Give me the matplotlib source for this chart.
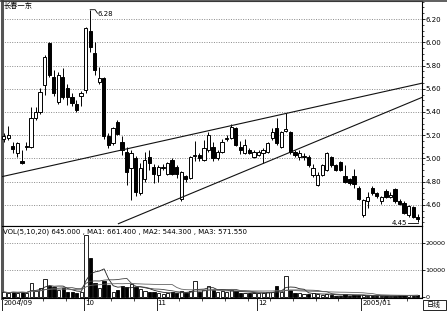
import matplotlib
matplotlib.use('Agg')
import matplotlib.pyplot as plt
from matplotlib.patches import Rectangle
from matplotlib.ticker import MultipleLocator, FixedLocator
import numpy as np
import pandas as pd

plt.rcParams['font.family'] = ['DejaVu Sans', 'Noto Sans CJK SC']

# ---- daily bars, 长春一东, 2004/09 - 2005/01 ----
title = '长春一东'
opens = [5.17, 5.18, 5.11, 5.05, 4.98, 5.10, 5.10, 5.35, 5.40, 5.63,
         5.99, 5.70, 5.49, 5.70, 5.61, 5.53, 5.47, 5.54, 5.59, 6.10,
         5.91, 5.66, 5.69, 5.19, 5.13, 5.31, 5.14, 5.06, 4.92, 5.00,
         4.70, 4.82, 5.01, 4.93, 4.86, 4.92, 4.87, 4.99, 4.93, 4.65,
         4.85, 4.83, 5.02, 5.03, 4.99, 5.07, 5.10, 5.00, 5.06, 5.17,
         5.18, 5.26, 5.10, 5.05, 5.07, 5.01, 5.03, 5.05, 5.06, 5.18,
         5.26, 5.10, 5.24, 5.23, 5.06, 5.01, 5.01, 5.01, 4.86, 4.77,
         4.86, 4.90, 5.01, 4.94, 4.97, 4.85, 4.82, 4.85, 4.75, 4.51,
         4.63, 4.75, 4.70, 4.63, 4.72, 4.67, 4.74, 4.63, 4.62, 4.51,
         4.58, 4.50]
highs = [5.22, 5.28, 5.14, 5.14, 5.07, 5.14, 5.44, 5.44, 5.61, 5.89,
         6.00, 5.76, 5.74, 5.78, 5.64, 5.56, 5.50, 5.58, 6.13, 6.28,
         6.00, 5.79, 5.70, 5.22, 5.27, 5.33, 5.19, 5.10, 5.07, 5.02,
         4.96, 5.06, 5.07, 4.95, 4.94, 4.95, 4.97, 5.00, 4.94, 4.89,
         4.86, 5.02, 5.15, 5.05, 5.16, 5.23, 5.14, 5.07, 5.17, 5.20,
         5.30, 5.27, 5.15, 5.17, 5.09, 5.07, 5.07, 5.09, 5.14, 5.26,
         5.35, 5.24, 5.39, 5.24, 5.07, 5.07, 5.05, 5.03, 4.95, 4.88,
         4.95, 5.06, 5.02, 4.95, 4.98, 4.94, 4.83, 4.91, 4.76, 4.65,
         4.71, 4.76, 4.71, 4.68, 4.74, 4.71, 4.75, 4.65, 4.63, 4.60,
         4.59, 4.52]
lows = [5.14, 5.16, 5.05, 5.01, 4.95, 5.07, 5.09, 5.33, 5.38, 5.55,
        5.70, 5.54, 5.47, 5.51, 5.46, 5.45, 5.40, 5.45, 5.56, 5.92,
        5.72, 5.64, 5.17, 5.09, 5.12, 5.20, 5.03, 4.77, 4.64, 4.68,
        4.69, 4.80, 4.90, 4.79, 4.80, 4.90, 4.86, 4.86, 4.83, 4.63,
        4.80, 4.82, 4.98, 4.98, 4.98, 5.06, 4.98, 4.99, 5.05, 5.15,
        5.17, 5.11, 5.04, 5.04, 5.04, 5.00, 5.02, 4.96, 5.05, 5.16,
        5.12, 5.09, 5.23, 5.04, 5.01, 4.99, 4.99, 4.93, 4.84, 4.76,
        4.85, 4.89, 4.93, 4.89, 4.89, 4.79, 4.77, 4.75, 4.64, 4.50,
        4.57, 4.69, 4.66, 4.61, 4.66, 4.66, 4.62, 4.60, 4.52, 4.50,
        4.49, 4.45]
closes = [5.19, 5.20, 5.08, 5.13, 4.96, 5.11, 5.35, 5.40, 5.57, 5.87,
          5.72, 5.56, 5.72, 5.53, 5.53, 5.48, 5.42, 5.56, 6.12, 5.96,
          5.76, 5.69, 5.19, 5.12, 5.26, 5.21, 5.07, 4.88, 5.05, 4.71,
          4.92, 4.99, 4.96, 4.87, 4.93, 4.93, 4.96, 4.87, 4.87, 4.88,
          4.82, 5.01, 5.03, 5.00, 5.09, 5.20, 5.00, 5.06, 5.14, 5.18,
          5.27, 5.12, 5.07, 5.12, 5.05, 5.06, 5.06, 5.07, 5.13, 5.23,
          5.13, 5.23, 5.25, 5.06, 5.03, 5.05, 5.02, 4.94, 4.92, 4.86,
          4.94, 5.05, 4.94, 4.90, 4.90, 4.80, 4.79, 4.78, 4.65, 4.64,
          4.67, 4.70, 4.68, 4.67, 4.67, 4.69, 4.63, 4.61, 4.53, 4.59,
          4.50, 4.48]
volumes = [1800, 1500, 2000, 1600, 1900, 1400, 5100, 2200, 3300, 6500,
           4100, 3800, 2600, 3200, 2000, 1700, 1500, 2000, 23000, 14600,
           5300, 3300, 5900, 4400, 2000, 2600, 4100, 3800, 4800, 3600,
           2800, 2200, 2000, 1800, 1500, 1200, 1400, 1700, 1500, 2200,
           1600, 2400, 6000, 2000, 2600, 4100, 2600, 2000, 2200, 1800,
           2500, 2300, 1500, 1600, 1400, 1500, 1300, 1400, 1800, 2000,
           4100, 2000, 7800, 2600, 1500, 1400, 1000, 1200, 1300, 1100,
           900, 1000, 700, 500, 550, 1200, 450, 600, 700, 600,
           400, 288, 420, 380, 500, 400, 436, 700, 850, 560,
           552, 645]

month_labels = ['2004/09', '10', '11', '12', '2005/01']
month_starts = [0, 18, 34, 56, 79]
price_ticks = [4.60, 4.80, 5.00, 5.20, 5.40, 5.60, 5.80, 6.00, 6.20]
vol_ticks = [0, 10000, 20000]
ma_windows = [5, 10, 20]
high_mark_idx, high_mark_val = 19, 6.28
low_mark_idx, low_mark_val = 91, 4.45
# trend lines: (start index, start price, end index, end price)
trend_lines = [(-0.8, 4.84, 92.2, 5.65),
               (25.1, 4.437, 92.2, 5.53)]

# ---- figure in pixel units ----
W, H = 447, 311
fig = plt.figure(figsize=(W / 100, H / 100), dpi=100)
fig.patch.set_facecolor('white')


def px_axes(left, top, right, bottom):
    return fig.add_axes([left / W, 1 - bottom / H, (right - left) / W, (bottom - top) / H])


ax = px_axes(2, 1, 422, 226)
axv = px_axes(2, 226, 422, 298)

n = len(closes)
idx = np.arange(n)
xlim = (-0.37, 91.93)
bw = 0.72
edge = 'black'
lw = 0.7

# ---- candlesticks ----
for i in idx:
    o, h, l, c = opens[i], highs[i], lows[i], closes[i]
    up = c >= o
    ax.vlines(i, l, h, color=edge, lw=lw, zorder=2)
    bottom = min(o, c)
    height = abs(c - o)
    if height < 0.008:
        ax.hlines((o + c) / 2, i - bw / 2, i + bw / 2, color=edge, lw=0.9, zorder=3)
    else:
        ax.add_patch(Rectangle((i - bw / 2, bottom), bw, height,
                               facecolor='white' if up else 'black',
                               edgecolor=edge, lw=lw, zorder=3))

# ---- trend lines ----
for x0, y0, x1, y1 in trend_lines:
    ax.plot([x0, x1], [y0, y1], color='#111111', lw=0.8, zorder=4, solid_capstyle='butt')

# ---- high / low markers ----
ax.plot([high_mark_idx, high_mark_idx + 1.1, high_mark_idx + 1.6],
        [high_mark_val, high_mark_val, high_mark_val - 0.03], color='black', lw=0.6, zorder=5)
ax.text(high_mark_idx + 1.7, high_mark_val - 0.035, f'{high_mark_val:.2f}', fontsize=5,
        ha='left', va='center', color='black', zorder=5)
ax.plot([low_mark_idx - 2.2, low_mark_idx], [low_mark_val - 0.003, low_mark_val - 0.003],
        color='black', lw=0.6, zorder=5)
ax.text(low_mark_idx - 2.3, low_mark_val - 0.003, f'{low_mark_val:.2f}', fontsize=5,
        ha='right', va='center', color='black', zorder=5)

ax.set_xlim(*xlim)
ax.set_ylim(4.419, 6.355)
ax.set_yticks(price_ticks)
ax.set_yticklabels([f'{t:.2f}' for t in price_ticks])
ax.yaxis.set_minor_locator(MultipleLocator(0.05))
ax.yaxis.tick_right()
ax.tick_params(axis='y', which='major', length=2, width=0.6, pad=0.8, labelsize=5)
ax.tick_params(axis='y', which='minor', length=1.3, width=0.5)
ax.set_xticks([])
ax.grid(axis='y', which='major', linestyle=(0, (1, 1.5)), color='#8a8a8a', lw=0.7, zorder=0)
for s in ['top', 'right', 'bottom']:
    ax.spines[s].set_linewidth(0.8)
ax.spines['left'].set_linewidth(2.2)
ax.spines['left'].set_color('#555555')
ax.text(0.004, 0.995, title, transform=ax.transAxes, fontsize=5.2,
        family=['Noto Sans CJK SC', 'DejaVu Sans'], ha='left', va='top')

# ---- volume ----
for i in idx:
    up = closes[i] >= opens[i]
    axv.add_patch(Rectangle((i - bw / 2, 0), bw, volumes[i],
                            facecolor='white' if up else 'black',
                            edgecolor=edge, lw=0.6, zorder=3))
vs = pd.Series(volumes, dtype=float)
ma_vals = []
for w, col in zip(ma_windows, ['#222222', '#444444', '#666666']):
    m = vs.rolling(w, min_periods=1).mean()
    ma_vals.append(m.iloc[-1])
    axv.plot(idx, m.values, color=col, lw=0.6, zorder=4)

axv.set_xlim(*xlim)
axv.set_ylim(-370, 26300)
axv.set_yticks(vol_ticks)
axv.set_yticklabels([str(t) for t in vol_ticks])
axv.yaxis.tick_right()
axv.tick_params(axis='y', length=2, width=0.6, pad=0.5, labelsize=4.6)
axv.grid(axis='y', linestyle=(0, (1, 1.5)), color='#8a8a8a', lw=0.7, zorder=0)
axv.set_axisbelow(True)
for s in ['top', 'right', 'bottom']:
    axv.spines[s].set_linewidth(0.8)
axv.spines['left'].set_linewidth(2.2)
axv.spines['left'].set_color('#555555')
vol_text = (f'VOL({",".join(str(w) for w in ma_windows)}) {volumes[-1]:.3f} , '
            f'MA1: {ma_vals[0]:.3f} , MA2: {ma_vals[1]:.3f} , MA3: {ma_vals[2]:.3f}')
axv.text(0.003, 0.96, vol_text, transform=axv.transAxes, fontsize=5, ha='left', va='top')

# x axis: month boundaries and weekly minor ticks
axv.set_xticks([m - 0.45 for m in month_starts])
axv.set_xticklabels([])
axv.tick_params(axis='x', which='major', length=9, width=0.6, direction='out')
weekly = [k - 0.45 for k in range(4, n, 5) if k not in month_starts]
axv.xaxis.set_minor_locator(FixedLocator(weekly))
axv.tick_params(axis='x', which='minor', length=2, width=0.5)
for m, lab in zip(month_starts, month_labels):
    axv.text(m - 0.2, -0.03, lab, transform=axv.get_xaxis_transform(), fontsize=5,
             ha='left', va='top')

# 日线 tag in the corner
fig.text(434 / W, 1 - 305 / H, '日线', fontsize=5, family=['Noto Sans CJK SC', 'DejaVu Sans'],
         ha='center', va='center')
fig.add_artist(Rectangle((423 / W, 1 - 310 / H), 23 / W, 10 / H, transform=fig.transFigure,
                         fill=False, edgecolor='black', lw=0.6))
fig.add_artist(plt.Line2D([0, 1], [1 - 0.5 / H, 1 - 0.5 / H], transform=fig.transFigure,
                          color='#444444', lw=1.2))

fig.savefig('out.png', dpi=100, facecolor='white')
